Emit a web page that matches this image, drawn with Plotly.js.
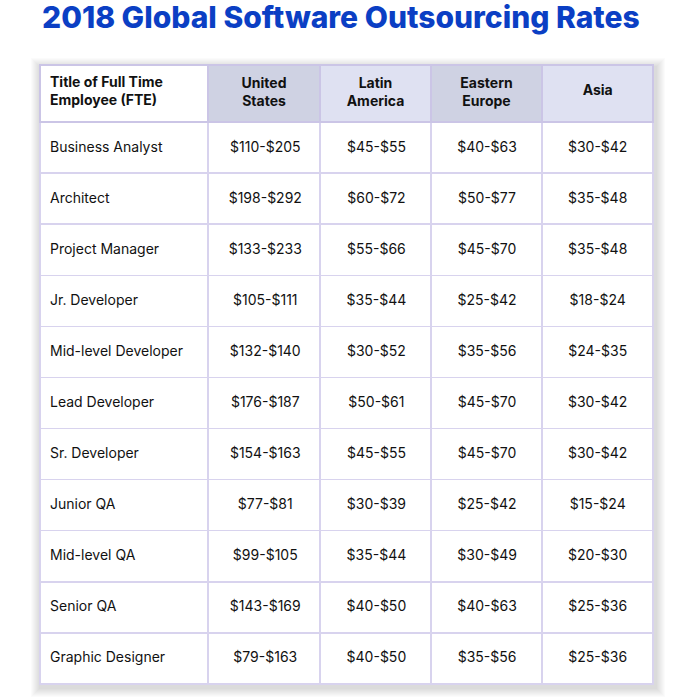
<!DOCTYPE html>
<html>
<head>
<meta charset="utf-8">
<script src="https://cdn.plot.ly/plotly-3.0.1.min.js"></script>
<style>html,body{margin:0;padding:0;background:#fff;}</style>
</head>
<body>
<div id="chart" style="width:700px;height:700px;"></div>
<script>
const headers = ["Title of Full Time<br>Employee (FTE)", "United<br>States", "Latin<br>America", "Eastern<br>Europe", "Asia"];
const roles = ["Business Analyst", "Architect", "Project Manager", "Jr. Developer", "Mid-level Developer", "Lead Developer", "Sr. Developer", "Junior QA", "Mid-level QA", "Senior QA", "Graphic Designer"];
const unitedStates = ["$110-$205", "$198-$292", "$133-$233", "$105-$111", "$132-$140", "$176-$187", "$154-$163", "$77-$81", "$99-$105", "$143-$169", "$79-$163"];
const latinAmerica = ["$45-$55", "$60-$72", "$55-$66", "$35-$44", "$30-$52", "$50-$61", "$45-$55", "$30-$39", "$35-$44", "$40-$50", "$40-$50"];
const easternEurope = ["$40-$63", "$50-$77", "$45-$70", "$25-$42", "$35-$56", "$45-$70", "$45-$70", "$25-$42", "$30-$49", "$40-$63", "$35-$56"];
const asia = ["$30-$42", "$35-$48", "$35-$48", "$18-$24", "$24-$35", "$30-$42", "$30-$42", "$15-$24", "$20-$30", "$25-$36", "$25-$36"];

const W = 700, H = 700;
const x0 = 40, x1 = 653, y0 = 65, yb = 684;
const headH = 57;
const cellH = (yb - y0 - headH) / roles.length;
const textShift = 11;   // centres one-line text vertically in its cell
const firstShift = 4;   // first line of a centred two-line header
const lineStep = 18;    // one line of 14px text
const colW = [168, 112, 111, 111, 111];
const aligns = ['left', 'center', 'center', 'center', 'center'];
const fontFam = 'Inter, Lato, sans-serif';
const clear = 'rgba(0,0,0,0)';

const shadowShapes = [];
for (let i = 1; i <= 9; i++) {
  shadowShapes.push({
    type: 'rect', xref: 'paper', yref: 'paper', layer: 'below',
    x0: (x0 - i) / W, x1: (x1 + i + 3) / W,
    y0: 1 - (yb + i + 4) / H, y1: 1 - (y0 - i + 2) / H,
    fillcolor: 'rgba(0,0,0,0.014)', line: {width: 0}
  });
}

// split headers so every line of a centred header is centred on its own
const parts = headers.map(h => h.split('<br>'));
const headerLeft = parts.map((p, i) => i === 0 ? headers[0] : '');
const headerFirst = parts.map((p, i) => i > 0 && p.length > 1 ? p[0] : '');
const headerSingle = parts.map((p, i) => i > 0 && p.length === 1 ? p[0] : '');
const headerSecond = parts.map((p, i) => i > 0 && p.length > 1 ? p[1] : '');
const blankCol = roles.map(() => '');
const blankCells = [blankCol, blankCol, blankCol, blankCol, blankCol];
const blankHeader = headers.map(() => '');

function textTable(shift, dx, headerVals, cellVals, withGrid) {
  return {
    type: 'table',
    domain: {x: [(x0 + dx) / W, x1 / W], y: [0, 1 - (y0 + shift) / H]},
    columnwidth: colW,
    header: {
      values: headerVals,
      align: aligns,
      height: headH,
      fill: {color: withGrid ? ['#ffffff', '#cfd2e3', '#dfe1f2', '#cfd2e3', '#dfe1f2'] : clear},
      line: {color: withGrid ? '#cbc5e6' : clear, width: withGrid ? 1.5 : 0},
      font: {family: fontFam, size: 14, color: '#111111', weight: 700}
    },
    cells: {
      values: cellVals,
      align: aligns,
      height: cellH,
      fill: {color: withGrid ? '#ffffff' : clear},
      line: {color: withGrid ? '#d8d3ee' : clear, width: withGrid ? 1.5 : 0},
      font: {family: fontFam, size: 14, color: '#111111'}
    }
  };
}

const data = [
  textTable(0, 0, blankHeader, blankCells, true),
  textTable(0, 2, headerLeft, blankCells, false),
  textTable(firstShift, 0, headerFirst, blankCells, false),
  textTable(firstShift + lineStep, 0, headerSecond, blankCells, false),
  textTable(textShift, 2, headerSingle, [roles, unitedStates, latinAmerica, easternEurope, asia], false)
];

const layout = {
  width: W, height: H,
  margin: {l: 0, r: 0, t: 0, b: 0},
  paper_bgcolor: '#ffffff',
  showlegend: false,
  shapes: shadowShapes,
  annotations: [{
    text: '2018 Global Software Outsourcing Rates',
    xref: 'paper', yref: 'paper', x: 341 / W, y: 1 - 17 / H,
    xanchor: 'center', yanchor: 'middle', showarrow: false,
    font: {family: 'Inter, sans-serif', size: 30, color: '#0b3fc4', weight: 800}
  }]
};

Plotly.newPlot('chart', data, layout, {displayModeBar: false, staticPlot: true});
</script>
</body>
</html>
